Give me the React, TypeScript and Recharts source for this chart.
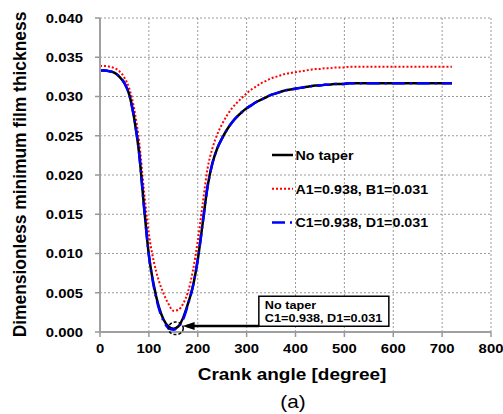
import React from 'react';
import {
  LineChart,
  Line,
  XAxis,
  YAxis,
  CartesianGrid,
  Legend,
  ReferenceArea,
  ReferenceDot,
  ReferenceLine,
  Label,
} from 'recharts';

const FONT = '"Liberation Sans", Arial, sans-serif';
const SX = 1.1;

// Crank angle [degree]
const angles = [
  0, 10, 20, 30, 40, 50, 60, 70, 80, 90, 100, 110, 120, 130, 140, 150, 160, 170, 180, 190,
  200, 210, 220, 230, 240, 250, 260, 270, 280, 290, 300, 310, 320, 330, 340, 350, 360, 370,
  380, 390, 400, 410, 420, 430, 440, 450, 460, 470, 480, 490, 500, 510, 520, 530, 540, 550,
  560, 570, 580, 590, 600, 610, 620, 630, 640, 650, 660, 670, 680, 690, 700, 710, 720,
];

// No taper
const noTaper = [
  0.0333, 0.0333, 0.0332, 0.033, 0.0325, 0.0317, 0.0302, 0.0272, 0.0228, 0.016, 0.0098, 0.006,
  0.0033, 0.0016, 0.0007, 0.0004, 0.0007, 0.0018, 0.0036, 0.0058, 0.0092, 0.0138, 0.0185,
  0.0215, 0.0234, 0.0247, 0.0258, 0.0267, 0.0274, 0.028, 0.0285, 0.0289, 0.0293, 0.0296,
  0.0299, 0.0302, 0.0304, 0.0306, 0.0308, 0.0309, 0.031, 0.0311, 0.0312, 0.0313, 0.0314,
  0.0314, 0.0315, 0.0315, 0.0316, 0.0316, 0.0316, 0.0317, 0.0317, 0.0317, 0.0317, 0.0317,
  0.0317, 0.0317, 0.0317, 0.0317, 0.0317, 0.0317, 0.0317, 0.0317, 0.0317, 0.0317, 0.0317,
  0.0317, 0.0317, 0.0317, 0.0317, 0.0317, 0.0317,
];

// A1=0.938, B1=0.031
const taperAB = [
  0.0339, 0.0339, 0.0338, 0.0336, 0.0332, 0.0324, 0.031, 0.0284, 0.0243, 0.018, 0.0125, 0.009,
  0.0066, 0.0049, 0.0036, 0.0027, 0.0028, 0.0036, 0.0051, 0.0078, 0.0116, 0.0163, 0.0208,
  0.0234, 0.0252, 0.0265, 0.0276, 0.0285, 0.0292, 0.0298, 0.0304, 0.0309, 0.0313, 0.0317,
  0.032, 0.0323, 0.0325, 0.0327, 0.0329, 0.033, 0.0331, 0.0332, 0.0333, 0.0334, 0.0335,
  0.0335, 0.0336, 0.0336, 0.0337, 0.0337, 0.0337, 0.0338, 0.0338, 0.0338, 0.0338, 0.0338,
  0.0338, 0.0338, 0.0338, 0.0338, 0.0338, 0.0338, 0.0338, 0.0338, 0.0338, 0.0338, 0.0338,
  0.0338, 0.0338, 0.0338, 0.0338, 0.0338, 0.0338,
];

// C1=0.938, D1=0.031
const taperCD = [
  0.0333, 0.0333, 0.0332, 0.033, 0.0325, 0.0317, 0.0302, 0.0272, 0.0228, 0.016, 0.0098, 0.0058,
  0.0031, 0.0014, 0.0005, 0.0003, 0.0006, 0.0016, 0.0035, 0.0058, 0.0092, 0.0138, 0.0185,
  0.0215, 0.0234, 0.0247, 0.0258, 0.0267, 0.0274, 0.028, 0.0285, 0.0289, 0.0293, 0.0296,
  0.0299, 0.0302, 0.0304, 0.0306, 0.0308, 0.0309, 0.031, 0.0311, 0.0312, 0.0313, 0.0314,
  0.0314, 0.0315, 0.0315, 0.0316, 0.0316, 0.0316, 0.0317, 0.0317, 0.0317, 0.0317, 0.0317,
  0.0317, 0.0317, 0.0317, 0.0317, 0.0317, 0.0317, 0.0317, 0.0317, 0.0317, 0.0317, 0.0317,
  0.0317, 0.0317, 0.0317, 0.0317, 0.0317, 0.0317,
];

const xTicks = [0, 100, 200, 300, 400, 500, 600, 700, 800];
const yTicks = [0, 0.005, 0.01, 0.015, 0.02, 0.025, 0.03, 0.035, 0.04];

const seriesNames = ['No taper', 'A1=0.938, B1=0.031', 'C1=0.938, D1=0.031'];
const annotationLines = ['No taper', 'C1=0.938, D1=0.031'];

const data = angles.map((a, i) => ({
  angle: a,
  noTaper: noTaper[i],
  ab: taperAB[i],
  cd: taperCD[i],
}));

const XTick = (props: any) => {
  const { x, y, payload } = props;
  return (
    <text
      transform={`translate(${x},${y}) scale(${SX},1)`}
      textAnchor="middle"
      dy="0.71em"
      fontSize={13.5}
      fontWeight="bold"
      fontFamily={FONT}
      fill="#000"
    >
      {payload.value}
    </text>
  );
};

const YTick = (props: any) => {
  const { x, y, payload } = props;
  return (
    <text
      transform={`translate(${x},${y}) scale(${SX},1)`}
      textAnchor="end"
      dy="0.355em"
      fontSize={13.5}
      fontWeight="bold"
      fontFamily={FONT}
      fill="#000"
    >
      {Number(payload.value).toFixed(3)}
    </text>
  );
};

const XTitle = () => (
  <g>
    <text
      transform="translate(292,380) scale(1.15,1)"
      textAnchor="middle"
      fontSize={16.5}
      fontWeight="bold"
      fontFamily={FONT}
      fill="#000"
    >
      Crank angle [degree]
    </text>
    <text
      transform="translate(293,408) scale(1.15,1)"
      textAnchor="middle"
      fontSize={18}
      fontFamily={FONT}
      fill="#000"
    >
      (a)
    </text>
  </g>
);

const YTitle = () => (
  <text
    transform="translate(26,174.5) rotate(-90) scale(1,1.1)"
    textAnchor="middle"
    fontSize={17.4}
    fontWeight="bold"
    fontFamily={FONT}
    fill="#000"
  >
    Dimensionless minimum film thickness
  </text>
);

const legendStyles = [
  { stroke: '#000000', dash: undefined as string | undefined, width: 2.5 },
  { stroke: '#ff0000', dash: '2 2', width: 2 },
  { stroke: '#0000ff', dash: '13 5 2 5', width: 2.5 },
];

const LegendContent = () => (
  <svg width={230} height={100} style={{ display: 'block', overflow: 'visible' }}>
    {seriesNames.map((name, i) => {
      const cy = 15 + i * 33.8;
      const st = legendStyles[i];
      return (
        <g key={name}>
          <line
            x1={2}
            x2={23}
            y1={cy}
            y2={cy}
            stroke={st.stroke}
            strokeWidth={st.width}
            strokeDasharray={st.dash}
          />
          <text
            transform={`translate(25.5,${cy + 4.8}) scale(${SX},1)`}
            fontSize={13}
            fontWeight="bold"
            fontFamily={FONT}
            fill="#000"
          >
            {name}
          </text>
        </g>
      );
    })}
  </svg>
);

const BoxLabel = (props: any) => {
  const vb = props.viewBox || { x: 259, y: 296 };
  return (
    <g>
      {annotationLines.map((t, i) => (
        <text
          key={i}
          transform={`translate(${vb.x + 6},${vb.y + 12.4 + i * 13.4}) scale(${SX},1)`}
          fontSize={11.5}
          fontWeight="bold"
          fontFamily={FONT}
          fill="#000"
        >
          {t}
        </text>
      ))}
    </g>
  );
};

const ArrowHead = (props: any) => {
  const { cx, cy } = props;
  if (cx == null || cy == null) return null;
  return <path d={`M${cx},${cy} L${cx + 12},${cy - 4} L${cx + 12},${cy + 4} Z`} fill="#000" />;
};

const MinEllipse = (props: any) => {
  const { cx, cy } = props;
  if (cx == null || cy == null) return null;
  return (
    <ellipse
      cx={cx}
      cy={cy}
      rx={7.5}
      ry={6.3}
      fill="none"
      stroke="#000"
      strokeWidth={1.5}
      strokeDasharray="3 2"
    />
  );
};

export default function App() {
  return (
    <div style={{ position: 'absolute', left: 0, top: 0, width: 503, height: 414, background: '#fff' }}>
      <LineChart
        width={503}
        height={414}
        data={data}
        margin={{ top: 18, right: 12, left: 30, bottom: 32 }}
      >
        <CartesianGrid stroke="#9a9a9a" strokeDasharray="2 2" strokeWidth={1} />
        <XAxis
          dataKey="angle"
          type="number"
          domain={[0, 800]}
          ticks={xTicks}
          height={50}
          tickSize={5}
          tickMargin={6}
          tick={<XTick />}
          tickLine={{ stroke: '#999', strokeWidth: 1.5 }}
          axisLine={{ stroke: '#a0a0a0', strokeWidth: 2 }}
        >
          <Label content={<XTitle />} />
        </XAxis>
        <YAxis
          type="number"
          domain={[0, 0.04]}
          ticks={yTicks}
          width={70}
          tickSize={5}
          tickMargin={12}
          tick={<YTick />}
          tickLine={{ stroke: '#999', strokeWidth: 1.5 }}
          axisLine={{ stroke: '#a0a0a0', strokeWidth: 2 }}
          allowDataOverflow
        >
          <Label content={<YTitle />} />
        </YAxis>
        <Legend
          layout="vertical"
          align="center"
          verticalAlign="middle"
          content={<LegendContent />}
          wrapperStyle={{ left: 270, top: 140, width: 230, height: 100 }}
        />
        <Line
          type="monotone"
          dataKey="ab"
          name={seriesNames[1]}
          stroke="#ff0000"
          strokeWidth={2}
          strokeDasharray="2 2"
          dot={false}
          isAnimationActive={false}
        />
        <Line
          type="monotone"
          dataKey="noTaper"
          name={seriesNames[0]}
          stroke="#000000"
          strokeWidth={2.5}
          dot={false}
          isAnimationActive={false}
        />
        <Line
          type="monotone"
          dataKey="cd"
          name={seriesNames[2]}
          stroke="#0000ff"
          strokeWidth={2.5}
          strokeDasharray="13 5 2 5"
          dot={false}
          isAnimationActive={false}
        />
        <ReferenceArea
          x1={325}
          x2={591}
          y1={0.00073}
          y2={0.00455}
          fill="#ffffff"
          fillOpacity={1}
          stroke="#000"
          strokeWidth={1.5}
          label={<BoxLabel />}
        />
        <ReferenceLine
          segment={[
            { x: 325, y: 0.00077 },
            { x: 178, y: 0.00077 },
          ]}
          stroke="#000"
          strokeWidth={2.5}
        />
        <ReferenceDot x={169} y={0.00077} r={4} shape={<ArrowHead />} />
        <ReferenceDot x={155} y={0.00047} r={7} shape={<MinEllipse />} />
      </LineChart>
    </div>
  );
}
